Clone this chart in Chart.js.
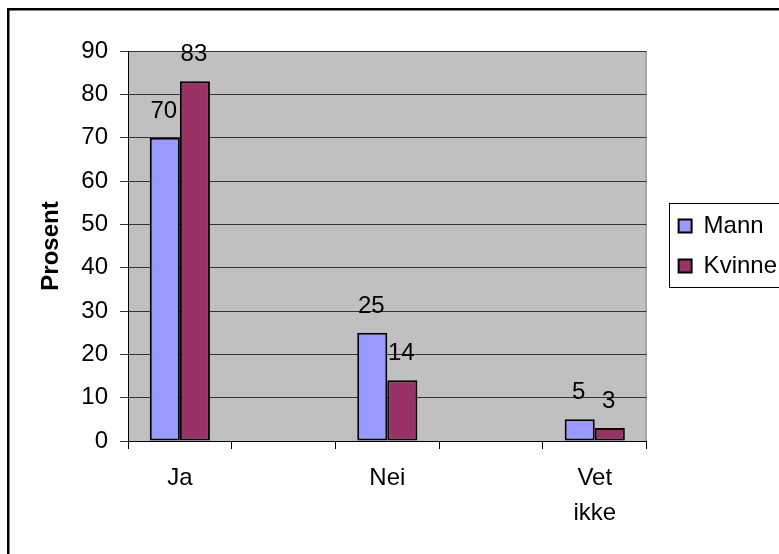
<!DOCTYPE html>
<html>
<head>
<meta charset="utf-8">
<script src="https://cdn.jsdelivr.net/npm/chart.js@4.4.1/dist/chart.umd.min.js"></script>
<style>
  html, body { margin: 0; padding: 0; background: #fff; overflow: hidden; }
  #wrap { width: 779px; height: 554px; position: relative; }
</style>
</head>
<body>
<div id="wrap"><canvas id="chart" width="779" height="554"></canvas></div>
<script>
// data (blank categories keep the Excel spacing)
const categories = ['Ja', '', 'Nei', '', ['Vet', 'ikke']];
const mann = [70, null, 25, null, 5];
const kvinne = [83, null, 14, null, 3];
const seriesNames = ['Mann', 'Kvinne'];
const yMin = 0, yMax = 90, yStep = 10;

const FONT = "'Liberation Sans', Arial, sans-serif";
Chart.defaults.font.family = FONT;
Chart.defaults.font.size = 24;
Chart.defaults.color = '#000';

// grey plot area like the old Excel charts
const plotBg = {
  id: 'plotBg',
  beforeDraw(chart) {
    const { ctx, chartArea: a } = chart;
    ctx.save();
    ctx.fillStyle = '#c0c0c0';
    ctx.fillRect(a.left, a.top, a.width, a.height);
    ctx.strokeStyle = '#808080';
    ctx.lineWidth = 1;
    ctx.beginPath();
    ctx.moveTo(a.right - 0.5, a.top);
    ctx.lineTo(a.right - 0.5, a.bottom);
    ctx.stroke();
    ctx.restore();
  }
};

// numbers above the bars
const valueLabels = {
  id: 'valueLabels',
  afterDatasetsDraw(chart) {
    const ctx = chart.ctx;
    ctx.save();
    ctx.font = '24px ' + FONT;
    ctx.fillStyle = '#000';
    ctx.textAlign = 'center';
    ctx.textBaseline = 'alphabetic';
    chart.data.datasets.forEach((ds, i) => {
      chart.getDatasetMeta(i).data.forEach((bar, j) => {
        const v = ds.data[j];
        if (v == null) return;
        ctx.fillText(String(v), bar.x - 1, bar.y - 20);
      });
    });
    ctx.restore();
  }
};

// outer frame (left + top only, the rest is cropped) and legend box
const frame = {
  id: 'frame',
  afterDraw(chart) {
    const ctx = chart.ctx;
    ctx.save();
    ctx.fillStyle = '#000';
    ctx.fillRect(7, 8, 2.5, 554);
    ctx.fillRect(7, 8, 779, 2.5);
    const hb = chart.legend && chart.legend.legendHitBoxes;
    if (hb && hb.length) {
      const l = Math.round(hb[0].left - 10) + 0.5;
      const t = Math.round(hb[0].top + hb[0].height / 2 - 23.5) + 0.5;
      const last = hb[hb.length - 1];
      const b = Math.round(last.top + last.height / 2 + 20.5) + 0.5;
      ctx.strokeStyle = '#000';
      ctx.lineWidth = 1;
      ctx.strokeRect(l, t, 200, b - t);
    }
    ctx.restore();
  }
};

new Chart(document.getElementById('chart'), {
  type: 'bar',
  data: {
    labels: categories,
    datasets: [
      { label: seriesNames[0], data: mann, backgroundColor: '#9999ff', borderColor: '#000', borderWidth: 2, borderSkipped: false },
      { label: seriesNames[1], data: kvinne, backgroundColor: '#993366', borderColor: '#000', borderWidth: 2, borderSkipped: false }
    ]
  },
  options: {
    responsive: false,
    devicePixelRatio: 1,
    animation: false,
    barPercentage: 1,
    categoryPercentage: 0.58,
    layout: { padding: { top: 51, left: 0, right: -8, bottom: 0 } },
    plugins: {
      tooltip: { enabled: false },
      legend: {
        position: 'right',
        fullSize: false,
        labels: { boxWidth: 13, boxHeight: 13, padding: 16, font: { size: 24 }, color: '#000' }
      }
    },
    scales: {
      x: {
        grid: { drawOnChartArea: false, drawTicks: true, tickLength: 8, color: '#000' },
        border: { color: '#000', width: 1 },
        ticks: { autoRotate: false, maxRotation: 0, autoSkip: false, padding: 12, font: { size: 24, lineHeight: 1.45 } },
        afterFit: s => { s.height = 113; }
      },
      y: {
        min: yMin, max: yMax,
        ticks: { stepSize: yStep, padding: 12, font: { size: 24 } },
        grid: { color: '#333', tickLength: 8 },
        border: { color: '#000', width: 1 },
        title: { display: true, text: 'Prosent', font: { size: 24, weight: 'bold' }, padding: { top: 37, bottom: 0 } },
        afterFit: s => { s.width = 128; }
      },
      gap: {
        type: 'linear', position: 'right', display: true,
        grid: { display: false }, border: { display: false }, ticks: { display: false },
        afterFit: s => { s.width = 16; }
      }
    }
  },
  plugins: [plotBg, valueLabels, frame]
});
</script>
</body>
</html>
